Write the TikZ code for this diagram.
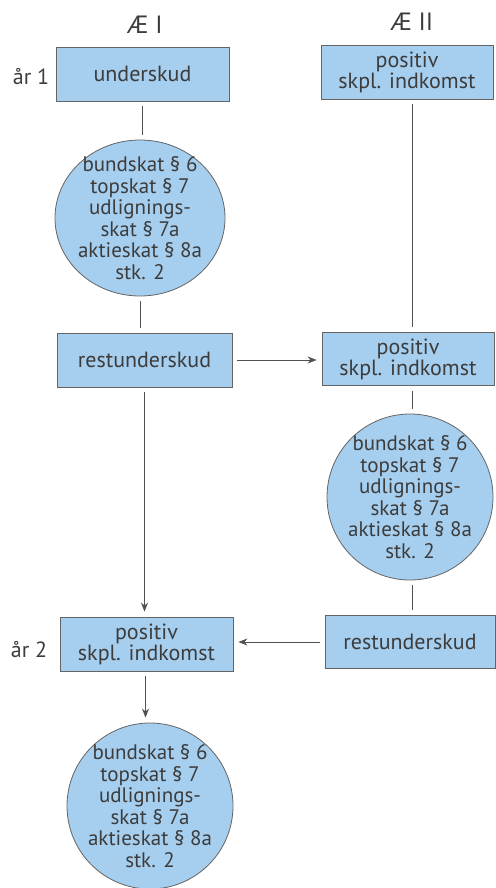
\documentclass[tikz,border=0pt]{standalone}
\usepackage{fontspec}
\setmainfont{PT Sans}
\usetikzlibrary{shapes.geometric,arrows.meta,calc}
\definecolor{boxblue}{RGB}{166,206,238}
\definecolor{edgegray}{RGB}{100,100,100}
\definecolor{txtgray}{RGB}{60,60,60}
\definecolor{linegray}{RGB}{80,80,80}
\begin{document}
\begin{tikzpicture}[x=1pt,y=-1pt,
  every node/.style={text=txtgray,font=\fontsize{22}{21}\selectfont},
  boxnode/.style={draw=edgegray,line width=0.8pt,fill=boxblue,rectangle,inner sep=0pt,align=center},
  disc/.style={draw=edgegray,line width=0.8pt,fill=boxblue,ellipse,inner sep=-12pt,align=center,
    font=\fontsize{21}{21.5}\selectfont},
  conn/.style={draw=linegray,line width=0.9pt,shorten <=5pt,shorten >=5pt},
  arr/.style={conn,-{Stealth[length=9pt,width=7pt]}},
  lbl/.style={font=\fontsize{25}{26}\selectfont}
]
\useasboundingbox (0,0) rectangle (495,888);
\node[lbl] (t1) at (145,25) {Æ I};
\node[lbl] (t2) at (412,22) {Æ II};
\node (y1) at (31,77) {år 1};
\node (y2) at (29,650) {år 2};

\node[boxnode,minimum width=173pt,minimum height=54pt] (b1) at (142.5,74) {underskud};
\node[boxnode,minimum width=172pt,minimum height=54pt] (b2) at (407,72) {positiv\\skpl. indkomst};
\node[disc,minimum width=170pt,minimum height=156pt] (c1) at (140,218) {bundskat § 6\\topskat § 7\\udlignings-\\skat § 7a\\aktieskat § 8a\\stk. 2};
\node[boxnode,minimum width=175pt,minimum height=54pt] (b3) at (144.5,360) {restunderskud};
\node[boxnode,minimum width=172pt,minimum height=53pt] (b4) at (408,359) {positiv\\skpl. indkomst};
\node[disc,minimum width=166pt,minimum height=166pt] (c2) at (410,497) {bundskat § 6\\topskat § 7\\udlignings-\\skat § 7a\\aktieskat § 8a\\stk. 2};
\node[boxnode,minimum width=170pt,minimum height=53pt] (b5) at (410,642) {restunderskud};
\node[boxnode,minimum width=173pt,minimum height=54pt] (b6) at (146.5,644) {positiv\\skpl. indkomst};
\node[disc,minimum width=166pt,minimum height=166pt] (c3) at (150,806) {bundskat § 6\\topskat § 7\\udlignings-\\skat § 7a\\aktieskat § 8a\\stk. 2};

\draw[conn] (b1.south) -- (b1.south |- c1.north);
\draw[conn] (c1.south) -- (c1.south |- b3.north);
\draw[conn] ($(b2.south)+(5,0)$) -- ($(b2.south |- b4.north)+(5,0)$);
\draw[arr] (b3.east) -- (b3.east -| b4.west);
\draw[conn] ($(b4.south)+(4,0)$) -- ($(b4.south |- c2.north)+(4,0)$);
\draw[conn] ($(c2.south)+(2,0)$) -- ($(c2.south |- b5.north)+(2,0)$);
\draw[arr] (b3.south) -- (b3.south |- b6.north);
\draw[arr] (b5.west) -- (b5.west -| b6.east);
\draw[arr] ($(b6.south)+(-1,0)$) -- ($(b6.south |- c3.north)+(-1,0)$);
\end{tikzpicture}
\end{document}
